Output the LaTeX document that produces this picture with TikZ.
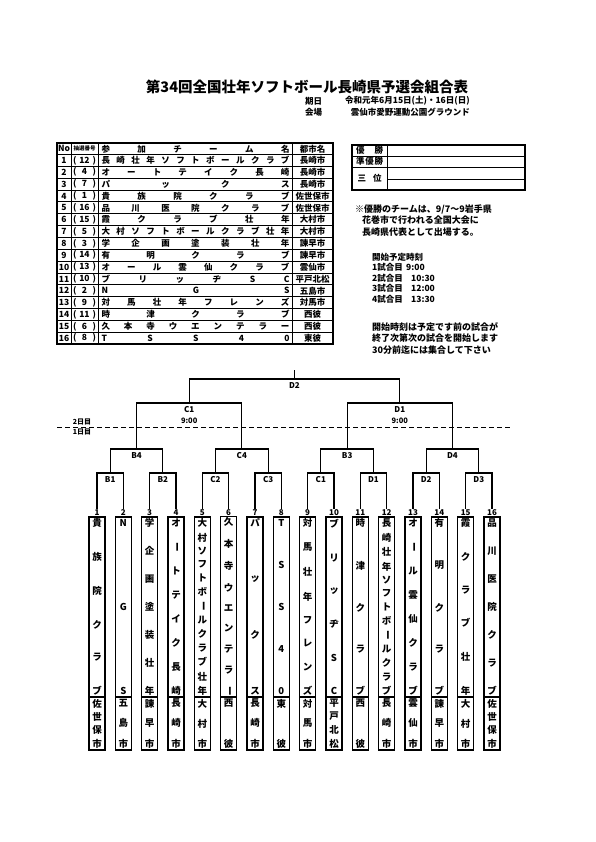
\documentclass[tikz,border=0pt]{standalone}
\usepackage{fontspec}
\setmainfont{Noto Sans CJK JP}
\usepackage{graphicx}
\newcommand\VB{\rotatebox[origin=c]{-90}{ー}}
\makeatletter
\def\hsp#1{\hsp@first#1\relax}
\def\hsp@first#1{#1\hsp@rest}
\def\hsp@rest#1{\ifx#1\relax\else\hfill#1\expandafter\hsp@rest\fi}
\def\vsp#1{\vsp@first#1\relax}
\def\vsp@first#1{\hbox to 14pt{\hss#1\hss}\vsp@rest}
\def\vsp@rest#1{\ifx#1\relax\else\vfill\hbox to 14pt{\hss#1\hss}\expandafter\vsp@rest\fi}
\makeatother
\begin{document}
\begin{tikzpicture}[x=1pt,y=-1pt,
  every node/.style={inner sep=0pt},
  tf/.style={font=\fontsize{8.5}{9}\selectfont\bfseries},
  nf/.style={font=\fontsize{9}{10}\selectfont\bfseries},
  tline/.style={line width=0.8pt},
  touter/.style={line width=1.3pt},
  br/.style={line width=1.1pt},
  tbox/.style={draw, line width=1.2pt, minimum width=16pt, inner sep=1pt,
    font=\fontsize{9.5}{10}\selectfont\bfseries},
  lbl/.style={font=\fontsize{8}{9}\selectfont\bfseries, inner sep=0.5pt},
  tm/.style={font=\fontsize{7.5}{8}\selectfont\bfseries}]
\useasboundingbox (0,0) rectangle (595,842);
% title
\node[font=\fontsize{14.5}{16}\selectfont\bfseries] (title) at (307,87) {第34回全国壮年ソフトボール長崎県予選会組合表};
\node[tf, anchor=west] (kijitsu) at (305,101) {期日};
\node[tf, anchor=west] (date) at (345,101) {令和元年6月15日(土)・16日(日)};
\node[tf, anchor=west] (kaijo) at (305,112) {会場};
\node[tf, anchor=east] (venue) at (470,112) {雲仙市愛野運動公園グラウンド};
% table
\draw[touter] (57,143) rectangle (333,344.1);
\foreach \x in {71,98,292} \draw[tline] (\x,143) -- (\x,344.1);
\foreach \i in {0,...,15} \draw[tline] (57,{154.5+11.85*\i}) -- (333,{154.5+11.85*\i});
\node[tf] (hNo) at (64,148.75) {No};
\node[font=\fontsize{5.5}{6}\selectfont\bfseries] (hSeed) at (84.5,148.75) {抽選番号};
\node[tf] (hName) at (195.5,148.75) {\hbox to 188pt{\hsp{参加チーム名}}};
\node[tf] (hCity) at (312.5,148.75) {都市名};
\foreach \sd/\nm/\ct [count=\i] in {12/長崎壮年ソフトボールクラブ/長崎市, 4/オートテイク長崎/長崎市,
  7/パックス/長崎市, 1/貴族院クラブ/佐世保市, 16/品川医院クラブ/佐世保市, 15/霞クラブ壮年/大村市,
  5/大村ソフトボールクラブ壮年/大村市, 3/学企画塗装壮年/諫早市, 14/有明クラブ/諫早市,
  13/オール雲仙クラブ/雲仙市, 10/ブリッヂSC/平戸北松, 2/NGS/五島市, 9/対馬壮年フレンズ/対馬市,
  11/時津クラブ/西彼, 6/久本寺ウエンテラー/西彼, 8/TSS40/東彼} {
  \pgfmathsetmacro\yy{148.575+11.85*\i}
  \node[tf] (no\i) at (64,\yy) {\i};
  \node[tf] (sd\i) at (84.5,\yy) {\hbox to 23pt{(\hfil\sd\hfil)}};
  \node[tf] (nm\i) at (195.5,\yy) {\hbox to 188pt{\expandafter\hsp\expandafter{\nm}}};
  \node[tf] (ct\i) at (312.5,\yy) {\ct};
}
% results box
\draw[touter] (352,145) rectangle (525,190);
\draw[tline] (387,145) -- (387,190);
\draw[tline] (352,156) -- (525,156);
\draw[tline] (352,167) -- (525,167);
\draw[tline] (387,179) -- (525,179);
\node[tf] (r1) at (369.5,150.5) {\hbox to 27pt{\hsp{優勝}}};
\node[tf] (r2) at (369.5,161.5) {\hbox to 27pt{\hsp{準優勝}}};
\node[tf] (r3) at (369.5,178.5) {\hbox to 24pt{\hsp{三位}}};
% notes
\node[nf, anchor=west] (note1) at (355,209) {※優勝のチームは、9/7～9岩手県};
\node[nf, anchor=west] (note2) at (362,220.5) {花巻市で行われる全国大会に};
\node[nf, anchor=west] (note3) at (362,232) {長崎県代表として出場する。};
\node[tf, anchor=west] (sch0) at (372,257) {開始予定時刻};
\node[tf, anchor=west] (sch1) at (372,267.5) {1試合目};
\node[tf, anchor=west] (sch1t) at (406,267.5) {9:00};
\node[tf, anchor=west] (sch2) at (372,278) {2試合目};
\node[tf, anchor=west] (sch2t) at (411,278) {10:30};
\node[tf, anchor=west] (sch3) at (372,288.5) {3試合目};
\node[tf, anchor=west] (sch3t) at (411,288.5) {12:00};
\node[tf, anchor=west] (sch4) at (372,299) {4試合目};
\node[tf, anchor=west] (sch4t) at (411,299) {13:30};
\node[nf, anchor=west] (note4) at (372,327) {開始時刻は予定です前の試合が};
\node[nf, anchor=west] (note5) at (372,338.5) {終了次第次の試合を開始します};
\node[nf, anchor=west] (note6) at (372,350) {30分前迄には集合して下さい};
% teams
\foreach \nm/\ct [count=\i] in {貴族院クラブ/佐世保市, NGS/五島市, 学企画塗装壮年/諫早市,
  オ\VB トテイク長崎/長崎市, 大村ソフトボ\VB ルクラブ壮年/大村市, 久本寺ウエンテラ\VB/西彼,
  パックス/長崎市, TSS40/東彼, 対馬壮年フレンズ/対馬市, ブリッヂSC/平戸北松, 時津クラブ/西彼,
  長崎壮年ソフトボ\VB ルクラブ/長崎市, オ\VB ル雲仙クラブ/雲仙市, 有明クラブ/諫早市,
  霞クラブ壮年/大村市, 品川医院クラブ/佐世保市} {
  \pgfmathsetmacro\xx{97+26.333*(\i-1)}
  \node[lbl] (n\i) at (\xx,512.5) {\i};
  \node[tbox, minimum height=180pt] (t\i) at (\xx,607) {\vbox to 176pt{\offinterlineskip\expandafter\vsp\expandafter{\nm}}};
  \node[tbox, minimum height=53pt] (c\i) at (\xx,723.5) {\vbox to 48pt{\offinterlineskip\expandafter\vsp\expandafter{\ct}}};
}
% bracket coordinates
\foreach \j in {1,...,8} {
  \pgfmathsetmacro\xx{97+26.333*(2*\j-1.5)}
  \coordinate (a\j) at (\xx,473);
}
\foreach \j in {1,...,4} {
  \pgfmathsetmacro\xx{97+26.333*(4*\j-2.5)}
  \coordinate (b\j) at (\xx,449);
}
\coordinate (c1m) at ({97+26.333*3.5},403);
\coordinate (c2m) at ({97+26.333*11.5},403);
\coordinate (dtop) at ({97+26.333*7.5},379);
\coordinate (topend) at ({97+26.333*7.5},370);
% bracket lines
\foreach \j [evaluate=\j as \l using int(2*\j-1), evaluate=\j as \r using int(2*\j)] in {1,...,8}
  \draw[br] (n\l.north) |- (a\j) -| (n\r.north);
\draw[br] (a1) |- (b1) -| (a2);
\draw[br] (a3) |- (b2) -| (a4);
\draw[br] (a5) |- (b3) -| (a6);
\draw[br] (a7) |- (b4) -| (a8);
\draw[br] (b1) |- (c1m) -| (b2);
\draw[br] (b3) |- (c2m) -| (b4);
\draw[br] (c1m) |- (dtop) -| (c2m);
\draw[br] (dtop) -- (topend);
% bracket labels
\foreach \j/\t in {1/B1,2/B2,3/C2,4/C3,5/C1,6/D1,7/D2,8/D3}
  \node[lbl, below=3pt] (la\j) at (a\j) {\t};
\foreach \j/\t in {1/B4,2/C4,3/B3,4/D4}
  \node[lbl, below=3pt] (lb\j) at (b\j) {\t};
\node[lbl, below=3pt] (lc1) at (c1m) {C1};
\node[tm] (tc1) at ([yshift=-18pt]c1m) {9:00};
\node[lbl, below=3pt] (lc2) at (c2m) {D1};
\node[tm] (tc2) at ([yshift=-18pt]c2m) {9:00};
\node[lbl, below=3pt] (ld) at (dtop) {D2};
% day line
\coordinate (dl) at (57,427);
\coordinate (dr) at (510,427);
\draw[line width=1pt, dash pattern=on 5pt off 3pt] (dl) -- (dr);
\node[font=\fontsize{7}{7}\selectfont\bfseries] (day2) at (82,421.5) {2日目};
\node[font=\fontsize{7}{7}\selectfont\bfseries] (day1) at (82,432) {1日目};
\end{tikzpicture}
\end{document}
